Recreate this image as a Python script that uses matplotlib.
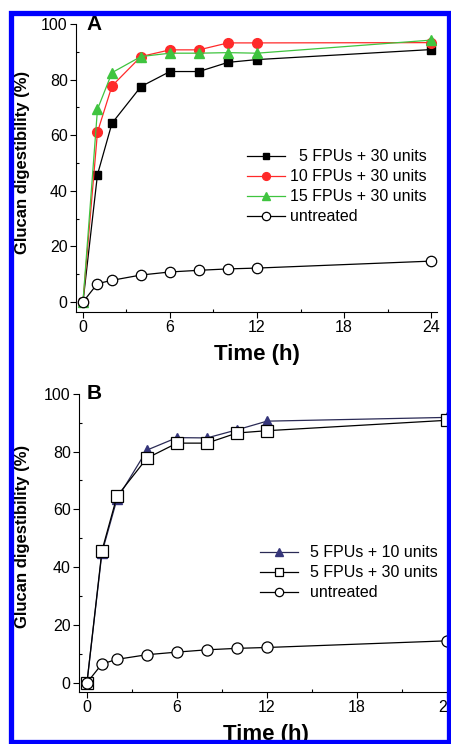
import matplotlib
matplotlib.use('Agg')
import matplotlib.pyplot as plt
from matplotlib.patches import Rectangle
from matplotlib.ticker import MultipleLocator

plt.rcParams['font.family'] = ['Liberation Sans', 'DejaVu Sans']

# time points (h)
t = [0, 1, 2, 4, 6, 8, 10, 12, 24]

# panel A
a_5_30 = [0, 45.8, 64.3, 77.5, 82.9, 82.9, 86.2, 87.2, 90.8]
a_10_30 = [0, 61.1, 77.7, 88.3, 90.7, 90.7, 93.2, 93.2, 93.3]
a_15_30 = [0, 69.3, 82.5, 88.3, 89.5, 89.5, 89.7, 89.5, 94.2]
a_untreated = [0, 6.6, 7.8, 9.7, 10.8, 11.4, 11.9, 12.2, 14.7]

# panel B
b_5_10 = [0, 45.0, 63.5, 80.5, 84.8, 84.7, 87.5, 90.5, 91.8]
b_5_30 = [0, 45.7, 64.5, 77.7, 82.9, 82.9, 86.4, 87.2, 90.8]
b_untreated = [0, 6.5, 8.1, 9.7, 10.6, 11.4, 11.9, 12.2, 14.5]

W, H = 452, 744
fig = plt.figure(figsize=(W / 100, H / 100), dpi=100)

def style_axes(ax, ylim_lo, xlim_lo, xlim_hi):
    ax.set_xlim(xlim_lo, xlim_hi)
    ax.set_ylim(ylim_lo, 100)
    ax.spines['top'].set_visible(False)
    ax.spines['right'].set_visible(False)
    ax.spines['left'].set_linewidth(0.8)
    ax.spines['bottom'].set_linewidth(0.8)
    ax.xaxis.set_major_locator(MultipleLocator(6))
    ax.xaxis.set_minor_locator(MultipleLocator(3))
    ax.yaxis.set_major_locator(MultipleLocator(20))
    ax.yaxis.set_minor_locator(MultipleLocator(10))
    ax.tick_params(which='major', direction='out', length=4, width=0.8,
                   labelsize=11.5, pad=2)
    ax.tick_params(which='minor', direction='in', length=2.5, width=0.8)
    ax.set_xlabel('Time (h)', fontsize=16, fontweight='bold', labelpad=6)
    ax.set_ylabel('Glucan digestibility (%)', fontsize=12, fontweight='bold')

# ---- panel A
axA = fig.add_axes([76 / W, 1 - 312 / H, 361 / W, 288 / H])
style_axes(axA, -3.6, -0.48, 24.41)
axA.plot(t, a_5_30, '-s', color='black', lw=0.9, ms=6, mfc='black',
         mec='black', label='  5 FPUs + 30 units')
axA.plot(t, a_10_30, '-o', color='#ff2a2a', lw=0.9, ms=7, mfc='#ff2a2a',
         mec='#ff2a2a', label='10 FPUs + 30 units')
axA.plot(t, a_15_30, '-^', color='#3fc43f', lw=0.9, ms=7, mfc='#3fc43f',
         mec='#3fc43f', label='15 FPUs + 30 units')
axA.plot(t, a_untreated, '-o', color='black', lw=0.9, ms=7.5, mfc='white',
         mec='black', mew=0.9, label='untreated')
axA.yaxis.set_label_coords(-0.128, 0.52)
axA.text(0.03, 1.0, 'A', transform=axA.transAxes, fontsize=15,
         fontweight='bold', va='center', ha='left')
axA.legend(loc='upper left', bbox_to_anchor=(0.474, 0.565), frameon=False,
           fontsize=11.5, handlelength=2.4, handletextpad=0.3,
           labelspacing=0.31, borderpad=0, borderaxespad=0, markerscale=0.8)

# ---- panel B
axB = fig.add_axes([79 / W, 1 - 692 / H, 374 / W, 298.3 / H])
style_axes(axB, -3.2, -0.53, 24.4)
axB.plot(t, b_5_10, '-^', color='#2a2a55', lw=0.9, ms=7, mfc='#35357a',
         mec='#35357a', label='5 FPUs + 10 units')
axB.plot(t, b_5_30, '-s', color='black', lw=0.9, ms=8, mfc='white',
         mec='black', mew=0.9, label='5 FPUs + 30 units')
axB.plot(t, b_untreated, '-o', color='black', lw=0.9, ms=8, mfc='white',
         mec='black', mew=0.9, label='untreated')
axB.yaxis.set_label_coords(-0.132, 0.523)
axB.text(0.021, 1.0, 'B', transform=axB.transAxes, fontsize=15,
         fontweight='bold', va='center', ha='left')
axB.legend(loc='upper left', bbox_to_anchor=(0.484, 0.492), frameon=False,
           fontsize=11.5, handlelength=2.4, handletextpad=0.7,
           labelspacing=0.31, borderpad=0, borderaxespad=0, markerscale=0.75)

# blue frame
fig.patches.append(Rectangle((10.5 / W, 1 - 742 / H), (449.5 - 10.5) / W,
                             (742 - 12.5) / H, transform=fig.transFigure,
                             fill=False, edgecolor='#0000ff', lw=3.8,
                             zorder=100))

fig.savefig('out.png', dpi=100)
